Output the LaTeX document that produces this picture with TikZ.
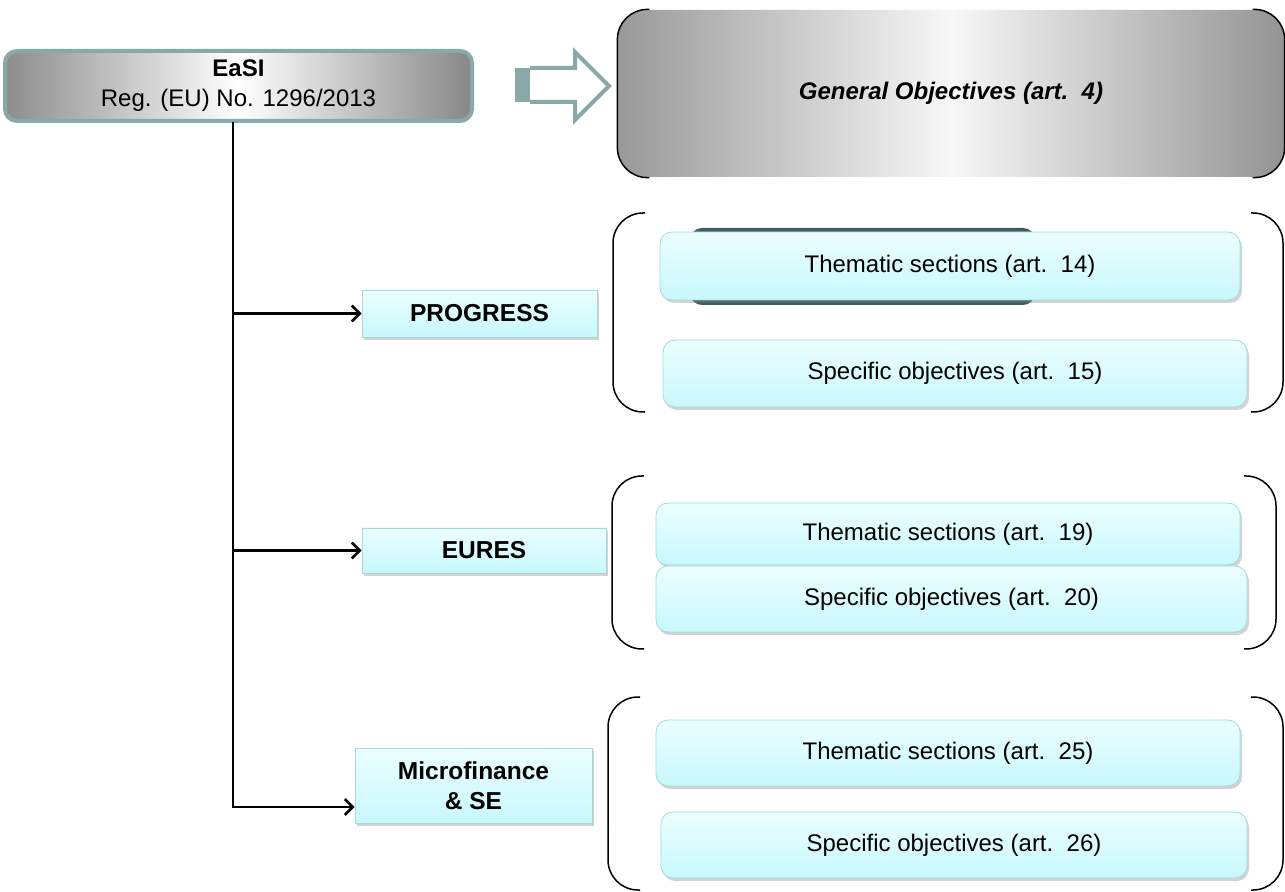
\documentclass[tikz,border=0pt]{standalone}
\usepackage{fontspec}
\setmainfont{Liberation Sans}
\usepackage{tikz}
\usetikzlibrary{arrows.meta,shadows}
\definecolor{easiedge}{RGB}{139,168,169}
\definecolor{celltop}{RGB}{236,254,255}
\definecolor{cellbot}{RGB}{200,248,252}
\definecolor{celledge}{RGB}{163,217,221}
\definecolor{darkslab}{RGB}{63,92,98}

\begin{document}
\begin{tikzpicture}[x=0.5pt,y=-0.5pt,>={Straight Barb[length=4pt,width=8pt]},semithick]
\tikzstyle{head}=[draw=easiedge,line width=2pt,rounded corners=6pt,left color=black!45,right color=black!47,middle color=white,align=center,font=\fontsize{12}{15}\selectfont]
\tikzstyle{genobj}=[rounded corners=14pt,left color=black!40,right color=black!42,middle color=black!3,font=\bfseries\itshape\fontsize{12}{14}\selectfont]
\tikzstyle{prog}=[draw=celledge,thin,top color=celltop,bottom color=cellbot,drop shadow={shadow xshift=1pt,shadow yshift=-1.5pt,opacity=0.35},align=center,font=\bfseries\fontsize{12.25}{15}\selectfont]
\tikzstyle{item}=[prog,rounded corners=6pt,font=\fontsize{12}{14}\selectfont]
\tikzstyle{brk}=[black,line width=0.75pt,rounded corners=15pt]
\tikzstyle{conn}=[black,line width=1.3pt]
\useasboundingbox (0,0) rectangle (1285,892);

% top row
\node[head,minimum width=233.5pt,minimum height=35pt] (easi) at (238.5,86) {\textbf{EaSI}\\Reg. (EU) No. 1296/2013};
\fill[easiedge] (515,68) rectangle (530,102);
\draw[easiedge,line width=2pt,fill=white] (530,68) -- (575,68) -- (575,52) -- (609,86) -- (575,120) -- (575,102) -- (530,102);
\node[genobj,minimum width=333pt,minimum height=83.5pt] (gen) at (951,93.5) {General Objectives (art.~~4)};
\draw[brk] ([xshift=16pt]gen.north west) -- (gen.north west) -- (gen.south west) -- ([xshift=16pt]gen.south west);
\draw[brk] ([xshift=-16pt]gen.north east) -- (gen.north east) -- (gen.south east) -- ([xshift=-16pt]gen.south east);

% strands
\node[prog,minimum width=117.5pt,minimum height=23.5pt] (prog) at (479.5,313.5) {PROGRESS};
\node[prog,minimum width=122pt,minimum height=22.5pt] (eures) at (484,550.5) {EURES};
\node[prog,minimum width=118.5pt,minimum height=37.5pt] (micro) at (473.5,785.5) {Microfinance\\\& SE};

% sections and objectives
\fill[darkslab,rounded corners=6pt] (690,228) rectangle (1035,305);
\node[item,minimum width=290pt,minimum height=34pt] (them14) at (950,266) {Thematic sections (art.~~14)};
\node[item,minimum width=292pt,minimum height=33.5pt] (spec15) at (955,373.5) {Specific objectives (art.~~15)};
\node[item,minimum width=292pt,minimum height=31pt] (them19) at (948,534) {Thematic sections (art.~~19)};
\node[item,minimum width=295.5pt,minimum height=33pt] (spec20) at (951.5,599) {Specific objectives (art.~~20)};
\node[item,minimum width=292pt,minimum height=33pt] (them25) at (948,753) {Thematic sections (art.~~25)};
\node[item,minimum width=293pt,minimum height=33pt] (spec26) at (954,845) {Specific objectives (art.~~26)};

% brackets
\foreach \l/\r/\t/\b in {613/1283/213/412, 612/1276/476/649, 608/1283/697/890}{
  \draw[brk] (\l+32,\t) -- (\l,\t) -- (\l,\b) -- (\l+32,\b);
  \draw[brk] (\r-32,\t) -- (\r,\t) -- (\r,\b) -- (\r-32,\b);
}

% connectors
\coordinate (trunk) at (233,122);
\draw[conn,->] (trunk) |- ([yshift=-10.75pt]micro.west);
\draw[conn,->] (trunk |- prog.west) -- (prog.west);
\draw[conn,->] (trunk |- eures.west) -- (eures.west);
\end{tikzpicture}
\end{document}
